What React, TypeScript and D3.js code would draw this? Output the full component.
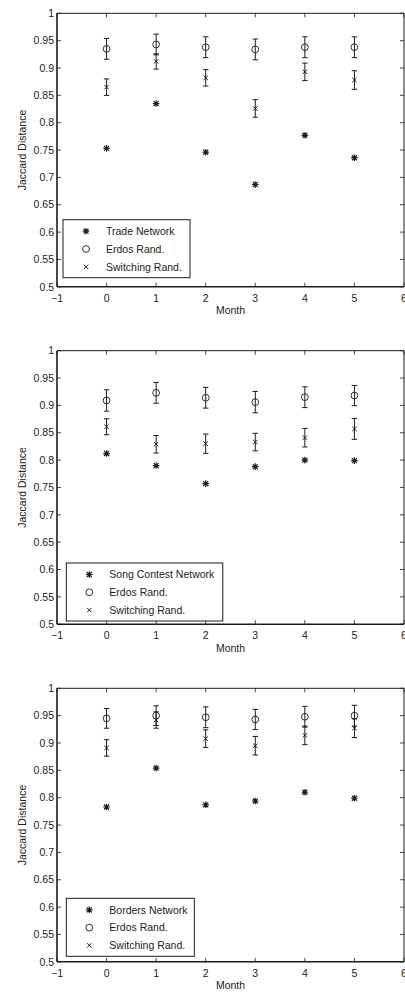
import React, { useEffect, useRef } from "react";
import * as d3 from "d3";

// month indices on the x axis
const months = [0, 1, 2, 3, 4, 5];
const xTicks = [-1, 0, 1, 2, 3, 4, 5, 6];
const yTicks = [0.5, 0.55, 0.6, 0.65, 0.7, 0.75, 0.8, 0.85, 0.9, 0.95, 1];

const networkNames = ["Trade Network", "Song Contest Network", "Borders Network"];

// observed network (asterisks)
const tradeNet = [0.753, 0.835, 0.746, 0.687, 0.777, 0.736];
const songNet = [0.812, 0.79, 0.757, 0.788, 0.8, 0.799];
const bordersNet = [0.783, 0.854, 0.787, 0.794, 0.81, 0.799];

// Erdos random graphs: mean and error
const tradeErdos = [0.935, 0.943, 0.938, 0.934, 0.938, 0.938];
const tradeErdosErr = [0.019, 0.019, 0.019, 0.019, 0.019, 0.019];
const songErdos = [0.909, 0.923, 0.914, 0.906, 0.915, 0.918];
const songErdosErr = [0.0195, 0.019, 0.019, 0.0195, 0.019, 0.0185];
const bordersErdos = [0.945, 0.95, 0.947, 0.943, 0.948, 0.95];
const bordersErdosErr = [0.018, 0.018, 0.019, 0.0185, 0.019, 0.019];

// switching randomisation: mean and error
const tradeSwitch = [0.865, 0.912, 0.882, 0.826, 0.893, 0.878];
const tradeSwitchErr = [0.015, 0.014, 0.015, 0.016, 0.016, 0.017];
const songSwitch = [0.861, 0.829, 0.83, 0.833, 0.841, 0.857];
const songSwitchErr = [0.0146, 0.016, 0.0176, 0.016, 0.017, 0.019];
const bordersSwitch = [0.891, 0.942, 0.908, 0.895, 0.914, 0.927];
const bordersSwitchErr = [0.015, 0.015, 0.016, 0.017, 0.017, 0.017];

const panels = [
  { net: tradeNet, erdos: tradeErdos, erdosErr: tradeErdosErr, sw: tradeSwitch, swErr: tradeSwitchErr },
  { net: songNet, erdos: songErdos, erdosErr: songErdosErr, sw: songSwitch, swErr: songSwitchErr },
  { net: bordersNet, erdos: bordersErdos, erdosErr: bordersErdosErr, sw: bordersSwitch, swErr: bordersSwitchErr },
];

const W = 405, H = 992;
const left = 57, right = 404, plotH = 273.5;
const tops = [13.3, 350.7, 688.3];
const legendBox = [
  { x: 63, y: 219.7, w: 127 },
  { x: 66.3, y: 563, w: 156.5 },
  { x: 66.3, y: 898.3, w: 128 },
];
const ink = "#1c1c1c";
const font = "Liberation Sans, Arial, Helvetica, sans-serif";
const fs = 10.5;

const App = () => {
  const svgRef = useRef<SVGSVGElement>(null);

  useEffect(() => {
    const svg = d3.select(svgRef.current);
    svg.selectAll("*").remove();

    const x = d3.scaleLinear().domain([-1, 6]).range([left, right]);

    // marker helpers
    const star = (g: any, cx: number, cy: number) => {
      const r = 3.3, d = 2.5;
      const p = d3.path();
      p.moveTo(cx - r, cy); p.lineTo(cx + r, cy);
      p.moveTo(cx, cy - r); p.lineTo(cx, cy + r);
      p.moveTo(cx - d, cy - d); p.lineTo(cx + d, cy + d);
      p.moveTo(cx - d, cy + d); p.lineTo(cx + d, cy - d);
      g.append("path").attr("d", p.toString()).attr("stroke", ink).attr("stroke-width", 1.2).attr("fill", "none");
    };
    const circ = (g: any, cx: number, cy: number) => {
      g.append("circle").attr("cx", cx).attr("cy", cy).attr("r", 3.4)
        .attr("fill", "none").attr("stroke", ink).attr("stroke-width", 0.9);
    };
    const cross = (g: any, cx: number, cy: number) => {
      const d = 2.2;
      const p = d3.path();
      p.moveTo(cx - d, cy - d); p.lineTo(cx + d, cy + d);
      p.moveTo(cx - d, cy + d); p.lineTo(cx + d, cy - d);
      g.append("path").attr("d", p.toString()).attr("stroke", ink).attr("stroke-width", 1).attr("fill", "none");
    };
    const errBar = (g: any, cx: number, y0: number, y1: number) => {
      const c = 2.7;
      const p = d3.path();
      p.moveTo(cx, y0); p.lineTo(cx, y1);
      p.moveTo(cx - c, y0); p.lineTo(cx + c, y0);
      p.moveTo(cx - c, y1); p.lineTo(cx + c, y1);
      g.append("path").attr("d", p.toString()).attr("stroke", ink).attr("stroke-width", 1).attr("fill", "none");
    };

    panels.forEach((pd, k) => {
      const top = tops[k];
      const bottom = top + plotH;
      const y = d3.scaleLinear().domain([0.5, 1]).range([bottom, top]);
      const g = svg.append("g");

      // frame
      g.append("line").attr("x1", left).attr("x2", right).attr("y1", top).attr("y2", top)
        .attr("stroke", ink).attr("stroke-width", 1);
      g.append("line").attr("x1", right).attr("x2", right).attr("y1", top).attr("y2", bottom)
        .attr("stroke", ink).attr("stroke-width", 1);

      // ticks, inward on all four sides
      xTicks.forEach(t => {
        g.append("line").attr("x1", x(t)).attr("x2", x(t)).attr("y1", bottom).attr("y2", bottom - 4)
          .attr("stroke", ink).attr("stroke-width", 0.8);
        g.append("line").attr("x1", x(t)).attr("x2", x(t)).attr("y1", top).attr("y2", top + 4)
          .attr("stroke", ink).attr("stroke-width", 0.8);
        g.append("text").attr("x", x(t)).attr("y", bottom + 15)
          .attr("text-anchor", "middle").attr("font-size", fs).attr("font-family", font).attr("fill", "#222")
          .text(t < 0 ? "\u2212" + Math.abs(t) : String(t));
      });
      yTicks.forEach(t => {
        g.append("line").attr("x1", left).attr("x2", left + 4).attr("y1", y(t)).attr("y2", y(t))
          .attr("stroke", ink).attr("stroke-width", 0.8);
        g.append("line").attr("x1", right).attr("x2", right - 4).attr("y1", y(t)).attr("y2", y(t))
          .attr("stroke", ink).attr("stroke-width", 0.8);
        g.append("text").attr("x", 54).attr("y", y(t) + 3.7)
          .attr("text-anchor", "end").attr("font-size", fs).attr("font-family", font).attr("fill", "#222")
          .text(String(+t.toFixed(2)));
      });

      g.append("line").attr("x1", left).attr("x2", right).attr("y1", bottom).attr("y2", bottom)
        .attr("stroke", ink).attr("stroke-width", 1.6);
      g.append("line").attr("x1", left).attr("x2", left).attr("y1", top).attr("y2", bottom)
        .attr("stroke", ink).attr("stroke-width", 1.6);

      // axis labels
      g.append("text").attr("x", (left + right) / 2).attr("y", bottom + 27.5)
        .attr("text-anchor", "middle").attr("font-size", fs).attr("font-family", font).attr("fill", "#222")
        .text("Month");
      g.append("text").attr("transform", `translate(25.5,${(top + bottom) / 2}) rotate(-90)`)
        .attr("text-anchor", "middle").attr("font-size", fs).attr("font-family", font).attr("fill", "#222")
        .text("Jaccard Distance");

      // data
      months.forEach((m, i) => {
        const cx = x(m);
        errBar(g, cx, y(pd.erdos[i] + pd.erdosErr[i]), y(pd.erdos[i] - pd.erdosErr[i]));
        circ(g, cx, y(pd.erdos[i]));
        errBar(g, cx, y(pd.sw[i] + pd.swErr[i]), y(pd.sw[i] - pd.swErr[i]));
        cross(g, cx, y(pd.sw[i]));
        star(g, cx, y(pd.net[i]));
      });

      // legend
      const lb = legendBox[k];
      const lg = g.append("g");
      lg.append("rect").attr("x", lb.x).attr("y", lb.y).attr("width", lb.w).attr("height", 58)
        .attr("fill", "white").attr("stroke", ink).attr("stroke-width", 1);
      const labels = [networkNames[k], "Erdos Rand.", "Switching Rand."];
      const drawers = [star, circ, cross];
      labels.forEach((lab, j) => {
        const ly = lb.y + 11.5 + j * 17.8;
        drawers[j](lg, lb.x + 23, ly);
        lg.append("text").attr("x", lb.x + 43).attr("y", ly + 3.8)
          .attr("font-size", fs).attr("font-family", font).attr("fill", "#222").text(lab);
      });
    });
  }, []);

  return (
    <svg ref={svgRef} width={W} height={H}
      style={{ position: "absolute", left: 0, top: 0, background: "white" }} />
  );
};

export default App;
